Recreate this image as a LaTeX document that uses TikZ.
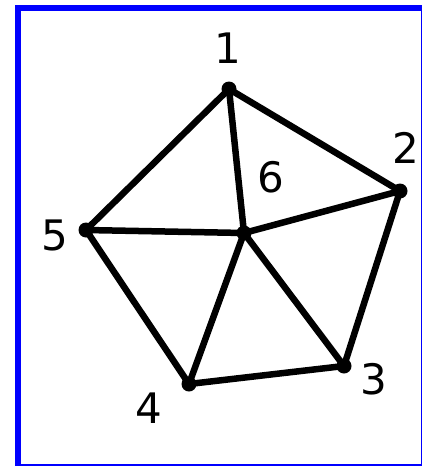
\documentclass[tikz,border=0pt]{standalone}
\usepackage{fontspec}
\setmainfont{DejaVu Sans}
\definecolor{frameblue}{RGB}{0,0,255}
\begin{document}
\begin{tikzpicture}[x=1pt,y=-1pt,
  vtx/.style={circle,fill=black,inner sep=0pt,minimum size=15pt},
  lbl/.style={inner sep=0pt,font=\fontsize{42}{42}\selectfont},
  edge/.style={line width=6.5pt,line cap=round}]
\useasboundingbox (0,0) rectangle (422,466);
% frame
\fill[frameblue] (15,5) rectangle (21,466);
\fill[frameblue] (15,5) rectangle (422,11);
\fill[frameblue] (15,464) rectangle (422,466);
\fill[frameblue] (420.5,5) rectangle (422,466);
% vertices
\node[vtx] (v1) at (229,89) {};
\node[vtx] (v2) at (400,191) {};
\node[vtx] (v3) at (344,366) {};
\node[vtx] (v4) at (189,384) {};
\node[vtx] (v5) at (86,230) {};
\node[vtx] (v6) at (244,233) {};
% labels
\node[lbl] (l1) at (228,48) {1};
\node[lbl] (l2) at (406,148) {2};
\node[lbl] (l3) at (374,379) {3};
\node[lbl] (l4) at (149,408) {4};
\node[lbl] (l5) at (55,235) {5};
\node[lbl] (l6) at (271,177) {6};
% edges
\draw[edge] (v1.center) -- (v2.center) -- (v3.center) -- (v4.center) -- (v5.center) -- (v1.center);
\foreach \k in {1,2,3,4,5} \draw[edge] (v6.center) -- (v\k.center);
\end{tikzpicture}
\end{document}
